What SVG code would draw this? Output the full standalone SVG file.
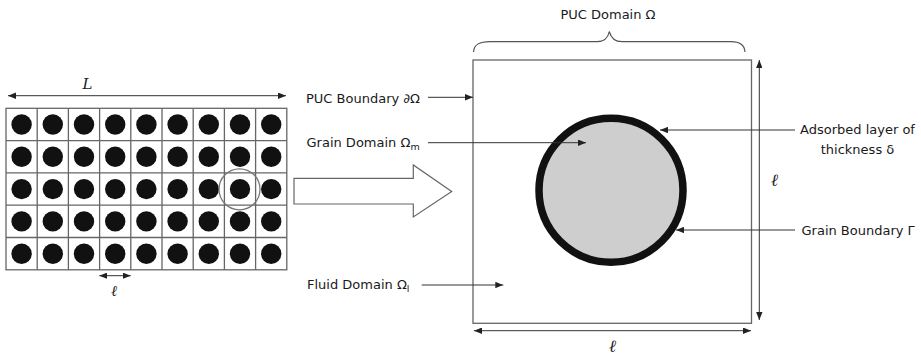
<svg xmlns="http://www.w3.org/2000/svg" width="921" height="355" viewBox="0 0 921 355">
<defs>
<marker id="ah" viewBox="0 0 10 8" refX="10" refY="4" markerWidth="8" markerHeight="6.4" markerUnits="userSpaceOnUse" orient="auto-start-reverse">
<path d="M0,0 L10,4 L0,8 Z" fill="#222"/>
</marker>
</defs>
<style>
.t{font-family:"DejaVu Sans","Liberation Sans",sans-serif;font-size:13px;fill:#1a1a1a}
.ell{font-family:"DejaVu Serif","Liberation Serif",serif;font-style:italic;fill:#1a1a1a}
.ln{stroke:#333;stroke-width:1;fill:none}
.grid{stroke:#666;stroke-width:1.3;fill:#fff}
.dot{fill:#111}
</style>
<rect width="921" height="355" fill="#fff"/>

<g id="grid-domain">
<rect class="grid" x="6" y="108.3" width="280.8" height="161.5"/>
<path class="grid" fill="none" d="M37.2,108.3V269.8M68.4,108.3V269.8M99.6,108.3V269.8M130.8,108.3V269.8M162,108.3V269.8M193.2,108.3V269.8M224.4,108.3V269.8M255.6,108.3V269.8M6,140.6H286.8M6,172.9H286.8M6,205.2H286.8M6,237.5H286.8"/>
<g class="dot">
<circle cx="21.6" cy="124.5" r="10.2"/><circle cx="52.8" cy="124.5" r="10.2"/><circle cx="84" cy="124.5" r="10.2"/><circle cx="115.2" cy="124.5" r="10.2"/><circle cx="146.4" cy="124.5" r="10.2"/><circle cx="177.6" cy="124.5" r="10.2"/><circle cx="208.8" cy="124.5" r="10.2"/><circle cx="240" cy="124.5" r="10.2"/><circle cx="271.2" cy="124.5" r="10.2"/>
<circle cx="21.6" cy="156.8" r="10.2"/><circle cx="52.8" cy="156.8" r="10.2"/><circle cx="84" cy="156.8" r="10.2"/><circle cx="115.2" cy="156.8" r="10.2"/><circle cx="146.4" cy="156.8" r="10.2"/><circle cx="177.6" cy="156.8" r="10.2"/><circle cx="208.8" cy="156.8" r="10.2"/><circle cx="240" cy="156.8" r="10.2"/><circle cx="271.2" cy="156.8" r="10.2"/>
<circle cx="21.6" cy="189.1" r="10.2"/><circle cx="52.8" cy="189.1" r="10.2"/><circle cx="84" cy="189.1" r="10.2"/><circle cx="115.2" cy="189.1" r="10.2"/><circle cx="146.4" cy="189.1" r="10.2"/><circle cx="177.6" cy="189.1" r="10.2"/><circle cx="208.8" cy="189.1" r="10.2"/><circle cx="240" cy="189.1" r="10.2"/><circle cx="271.2" cy="189.1" r="10.2"/>
<circle cx="21.6" cy="221.4" r="10.2"/><circle cx="52.8" cy="221.4" r="10.2"/><circle cx="84" cy="221.4" r="10.2"/><circle cx="115.2" cy="221.4" r="10.2"/><circle cx="146.4" cy="221.4" r="10.2"/><circle cx="177.6" cy="221.4" r="10.2"/><circle cx="208.8" cy="221.4" r="10.2"/><circle cx="240" cy="221.4" r="10.2"/><circle cx="271.2" cy="221.4" r="10.2"/>
<circle cx="21.6" cy="253.7" r="10.2"/><circle cx="52.8" cy="253.7" r="10.2"/><circle cx="84" cy="253.7" r="10.2"/><circle cx="115.2" cy="253.7" r="10.2"/><circle cx="146.4" cy="253.7" r="10.2"/><circle cx="177.6" cy="253.7" r="10.2"/><circle cx="208.8" cy="253.7" r="10.2"/><circle cx="240" cy="253.7" r="10.2"/><circle cx="271.2" cy="253.7" r="10.2"/>
</g>
<circle cx="239.5" cy="189.3" r="20.5" fill="none" stroke="#777" stroke-width="1.3"/>
<text class="ell" x="82.5" y="89" font-size="15">L</text>
<text class="ell" x="111" y="296" font-size="15">ℓ</text>
</g>

<g id="big-arrow">
<polygon points="294,178.3 413.3,178.3 413.3,165 451.7,191.5 413.3,217 413.3,204 294,204" fill="#fff" stroke="#666" stroke-width="1.2"/>
</g>

<g id="puc">
<rect x="473" y="60" width="278.5" height="263.3" fill="#fff" stroke="#666" stroke-width="1.3"/>
<circle id="grain" cx="611" cy="190.3" r="72" fill="#cecece" stroke="#111" stroke-width="7.5"/>
<path d="M473.5,52 C474,44 480,41.7 490,41.7 L597,41.7 C604,41.7 608,38 609.3,31.5 C611,38 615,41.7 622,41.7 L731,41.7 C740,41.7 744.5,45 745,52" fill="none" stroke="#555" stroke-width="1.2"/>
<text class="t" x="608" y="18.5" text-anchor="middle">PUC Domain Ω</text>
<text class="ell" x="771" y="186" font-size="17">ℓ</text>
<text class="ell" x="609" y="352" font-size="17">ℓ</text>
</g>

<g id="labels">
<text class="t" x="306" y="102.5">PUC Boundary ∂Ω</text>
<text class="t" x="306.5" y="146.7">Grain Domain Ω<tspan font-size="9.5" dy="3">m</tspan></text>
<text class="t" x="307" y="288.5">Fluid Domain Ω<tspan font-size="9.5" dy="3">l</tspan></text>
<text class="t" x="857.5" y="134.3" text-anchor="middle">Adsorbed layer of</text>
<text class="t" x="857.5" y="154.3" text-anchor="middle">thickness δ</text>
<text class="t" x="801.5" y="235">Grain Boundary Γ</text>
</g>

<g id="connectors">
<line class="ln" x1="8" y1="95.7" x2="286" y2="95.7" marker-start="url(#ah)" marker-end="url(#ah)"/>
<line class="ln" x1="99.3" y1="275.7" x2="130.7" y2="275.7" marker-start="url(#ah)" marker-end="url(#ah)"/>
<line class="ln" x1="428" y1="97.3" x2="473" y2="97.3" marker-end="url(#ah)"/>
<line class="ln" x1="428" y1="142.7" x2="586" y2="142.7" marker-end="url(#ah)"/>
<line class="ln" x1="421.7" y1="285" x2="503.3" y2="285" marker-end="url(#ah)"/>
<line class="ln" x1="795" y1="130" x2="660" y2="130" marker-end="url(#ah)"/>
<line class="ln" x1="795" y1="230" x2="676" y2="230" marker-end="url(#ah)"/>
<line class="ln" x1="759.3" y1="60" x2="759.3" y2="320" marker-start="url(#ah)" marker-end="url(#ah)"/>
<line class="ln" x1="474" y1="330.7" x2="751" y2="330.7" marker-start="url(#ah)" marker-end="url(#ah)"/>
</g>
</svg>
